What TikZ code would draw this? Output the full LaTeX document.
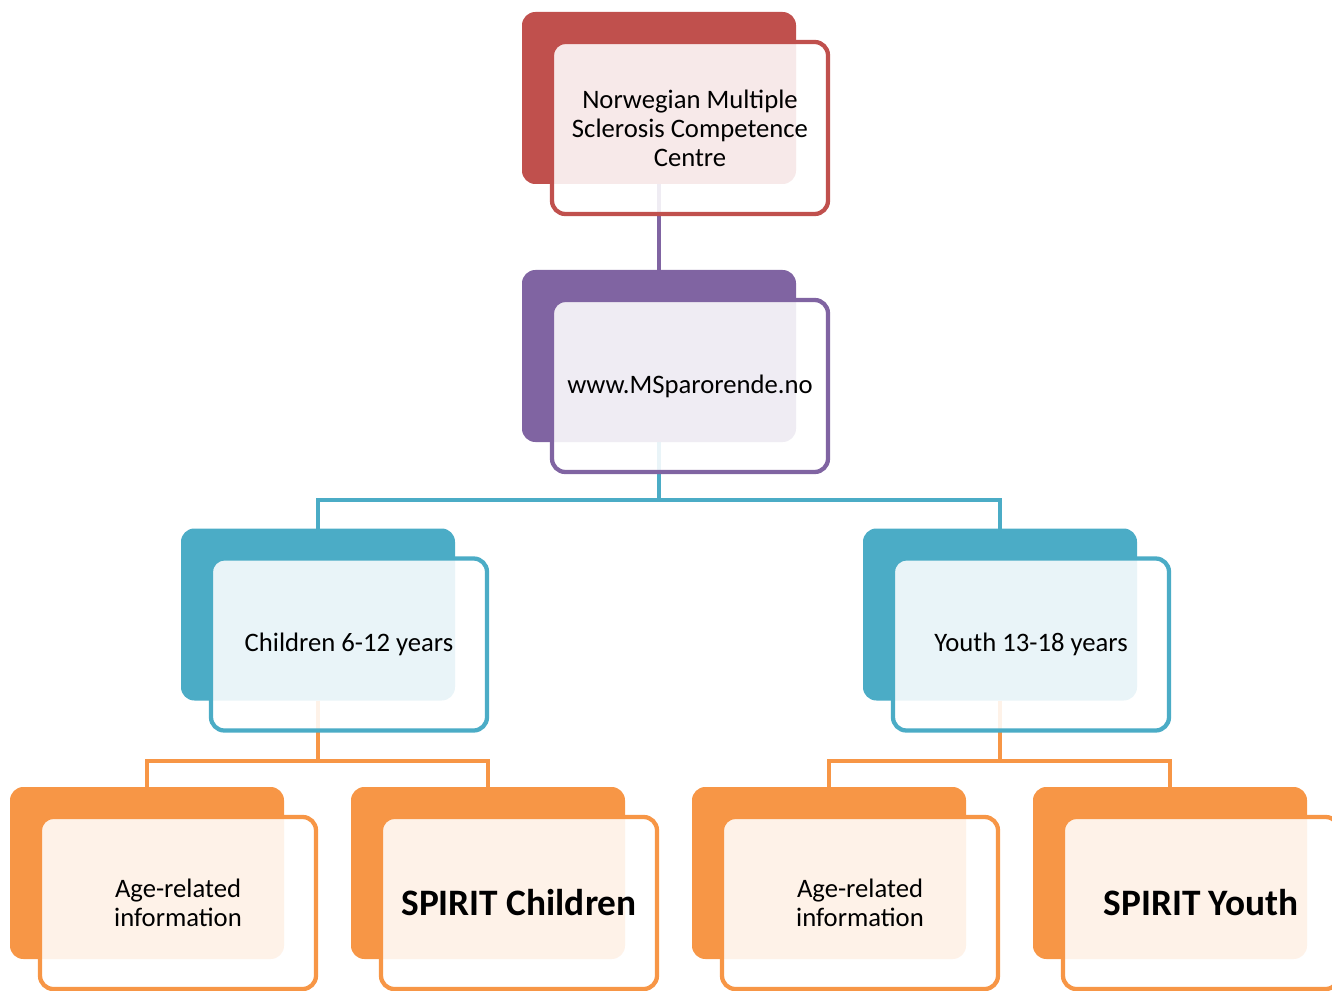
\documentclass[tikz,border=0pt]{standalone}
\usepackage{fontspec}
\setmainfont{Carlito}
\usepackage{tikz}
\usetikzlibrary{backgrounds}

\definecolor{msred}{HTML}{C0504D}
\definecolor{msviolet}{HTML}{8064A2}
\definecolor{msblue}{HTML}{4BACC6}
\definecolor{msorange}{HTML}{F79646}

\begin{document}
\begin{tikzpicture}[x=0.75pt, y=-0.75pt,
    every node/.style={font=\fontsize{20}{21.75}\selectfont},
    back/.style={fill=#1, rounded corners=10pt, minimum width=205.5pt, minimum height=129pt, inner sep=0pt, outer sep=0pt},
    front/.style={draw=#1, line width=3.2pt, fill=white, fill opacity=0.88, text opacity=1, rounded corners=10pt,
        minimum width=207pt, minimum height=129pt, align=center, inner sep=0pt, outer sep=0pt, anchor=north west},
    big/.style={font=\bfseries\fontsize{28}{32}\selectfont},
    link/.style={draw=#1, line width=3pt}]
    \useasboundingbox (0,0) rectangle (1332,991);
    % coloured back plates
    \node[back=msred] (centreback) at (659,98) {};
    \node[back=msviolet] (siteback) at (659,356) {};
    \node[back=msblue] (kidsback) at (318,614.5) {};
    \node[back=msblue] (youthback) at (1000,614.5) {};
    \foreach \n/\x in {kidsinfo/147, kidsspirit/488, youthinfo/829, youthspirit/1170} {
        \node[back=msorange] (\n back) at (\x,873) {};
    }
    % framed front cards
    \node[front=msred] (centre) at ([shift={(30,30)}]centreback.north west) {Norwegian Multiple\\Sclerosis Competence\\Centre};
    \node[front=msviolet] (site) at ([shift={(30,30)}]siteback.north west) {www.MSparorende.no};
    \node[front=msblue] (kids) at ([shift={(30,30)}]kidsback.north west) {Children 6-12 years};
    \node[front=msblue] (youth) at ([shift={(30,30)}]youthback.north west) {Youth 13-18 years};
    \node[front=msorange] (kidsinfo) at ([shift={(30,30)}]kidsinfoback.north west) {Age-related\\information};
    \node[front=msorange, big] (kidsspirit) at ([shift={(30,30)}]kidsspiritback.north west) {SPIRIT Children};
    \node[front=msorange] (youthinfo) at ([shift={(30,30)}]youthinfoback.north west) {Age-related\\information};
    \node[front=msorange, big] (youthspirit) at ([shift={(30,30)}]youthspiritback.north west) {SPIRIT Youth};
    % tree lines
    \begin{scope}[on background layer]
        \draw[link=msviolet] (centreback.south) -- (siteback.north);
        \draw[link=msblue] (siteback.south) -- ++(0,58) -| (kidsback.north);
        \draw[link=msblue] (siteback.south) -- ++(0,58) -| (youthback.north);
        \draw[link=msorange] (kidsback.south) -- ++(0,60) -| (kidsinfoback.north);
        \draw[link=msorange] (kidsback.south) -- ++(0,60) -| (kidsspiritback.north);
        \draw[link=msorange] (youthback.south) -- ++(0,60) -| (youthinfoback.north);
        \draw[link=msorange] (youthback.south) -- ++(0,60) -| (youthspiritback.north);
    \end{scope}
\end{tikzpicture}
\end{document}
